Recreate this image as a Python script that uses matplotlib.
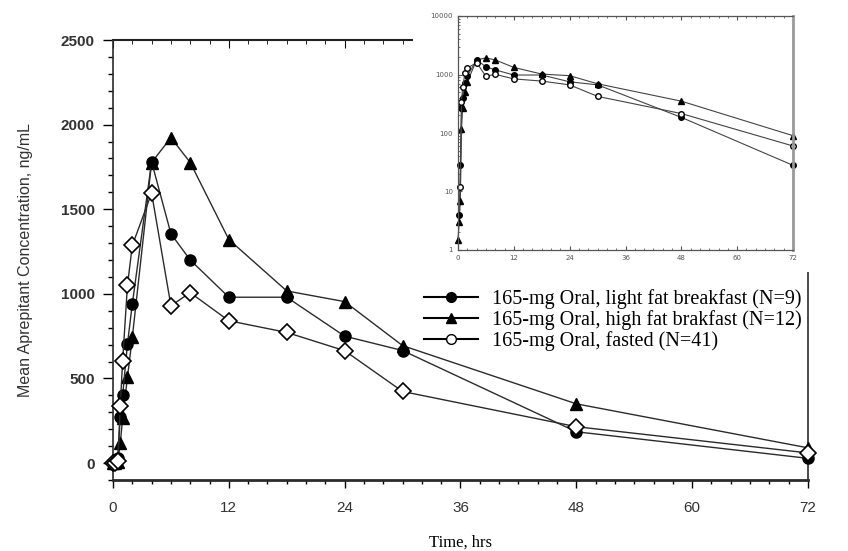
import matplotlib
matplotlib.use("Agg")
import matplotlib.pyplot as plt
from matplotlib.lines import Line2D
from matplotlib.patches import Rectangle
from matplotlib.ticker import MultipleLocator, LogLocator, NullFormatter

# sampling times (hrs) and mean concentrations (ng/mL)
time = [0, 0.25, 0.5, 0.75, 1, 1.5, 2, 4, 6, 8, 12, 18, 24, 30, 48, 72]
light_fat = [0, 4, 28, 270, 400, 705, 940, 1780, 1355, 1200, 980, 980, 750, 665, 185, 28]
high_fat = [1.5, 3, 7, 116, 265, 508, 743, 1776, 1923, 1776, 1321, 1017, 954, 694, 350, 90]
fasted = [0, 0, 12, 335, 606, 1052, 1286, 1595, 930, 1007, 841, 772, 664, 423, 215, 60]

labels = ["165-mg Oral, light fat breakfast (N=9)",
          "165-mg Oral, high fat brakfast (N=12)",
          "165-mg Oral, fasted (N=41)"]
x_ticks = [0, 12, 24, 36, 48, 60, 72]
y_ticks = [0, 500, 1000, 1500, 2000, 2500]

line_col = "#2b2b2b"
sans = ["Liberation Sans", "DejaVu Sans"]
serif = ["Liberation Serif", "DejaVu Serif"]

fig = plt.figure(figsize=(8.48, 5.51), dpi=100)
ax = fig.add_axes([113 / 848, 71 / 551, 695 / 848, 440 / 551])

ax.plot(time, high_fat, color=line_col, lw=1, marker="^", ms=8,
        mfc="black", mec="black", zorder=3, clip_on=False)
ax.plot(time, light_fat, color=line_col, lw=1, marker="o", ms=8,
        mfc="black", mec="black", zorder=3, clip_on=False)
ax.plot(time, fasted, color=line_col, lw=1, marker="D", ms=8,
        mfc="white", mec="black", mew=1.2, zorder=4, clip_on=False)

ax.set_xlim(0, 72)
ax.set_ylim(-100, 2500)
ax.set_xticks(x_ticks)
ax.set_yticks(y_ticks)
ax.xaxis.set_minor_locator(MultipleLocator(2))
ax.yaxis.set_minor_locator(MultipleLocator(100))
ax.tick_params(axis="x", which="major", direction="out", length=6, width=1,
               labelsize=11, pad=9)
ax.tick_params(axis="x", which="minor", direction="out", length=3, width=1)
ax.tick_params(axis="y", which="major", direction="out", length=7, width=1,
               labelsize=11, pad=6)
ax.tick_params(axis="y", which="minor", direction="out", length=3.5, width=1)
for lab in ax.get_xticklabels():
    lab.set_family(sans)
    lab.set_color("#333333")
for lab in ax.get_yticklabels():
    lab.set_family(sans)
    lab.set_color("#333333")
    lab.set_fontweight("bold")

top = ax.secondary_xaxis("top")
top.set_xticks(x_ticks)
top.xaxis.set_minor_locator(MultipleLocator(2))
top.tick_params(which="major", direction="in", length=6, labeltop=False)
top.tick_params(which="minor", direction="in", length=3)
top.spines["top"].set_linewidth(1.5)

for s in ax.spines.values():
    s.set_color(line_col)
    s.set_linewidth(1.2)
ax.spines["bottom"].set_linewidth(2)

ax.set_xlabel("Time, hrs", family=serif, fontsize=12, labelpad=14)
ax.set_ylabel("Mean Aprepitant Concentration, ng/mL", family=sans,
              fontsize=11.5, color="#333333", labelpad=20)

# legend
handles = [
    Line2D([], [], color="black", lw=1.5, marker="o", ms=7, mfc="black"),
    Line2D([], [], color="black", lw=1.5, marker="^", ms=7, mfc="black"),
    Line2D([], [], color="black", lw=1.5, marker="o", ms=7, mfc="white"),
]
fig.legend(handles, labels, loc="upper left", bbox_to_anchor=(424 / 848, 1 - 289 / 551),
           frameon=False, prop={"family": serif, "size": 14.5}, handlelength=2.7,
           handletextpad=0.7, labelspacing=0.05, borderaxespad=0, borderpad=0)

# white backing for the inset
fig.add_artist(Rectangle((413 / 848, 1 - 272 / 551), 1, 1, transform=fig.transFigure,
                         facecolor="white", edgecolor="none", zorder=1.5))

ins = fig.add_axes([458 / 848, 1 - 250 / 551, 335 / 848, 234 / 551], zorder=2)
ins.set_yscale("log", nonpositive="mask")
ins.plot(time, high_fat, color="#444444", lw=0.8, marker="^", ms=4, mfc="black", mec="black", clip_on=False)
ins.plot(time, light_fat, color="#444444", lw=0.8, marker="o", ms=4, mfc="black", mec="black", clip_on=False)
ins.plot(time, fasted, color="#444444", lw=0.8, marker="o", ms=4, mfc="white", mec="black", clip_on=False)
ins.set_xlim(0, 72)
ins.set_ylim(1, 10000)
ins.set_xticks(x_ticks)
ins.xaxis.set_minor_locator(MultipleLocator(2))
ins.yaxis.set_major_locator(LogLocator(base=10))
ins.yaxis.set_minor_locator(LogLocator(base=10, subs=range(2, 10)))
ins.yaxis.set_minor_formatter(NullFormatter())
ins.yaxis.set_major_formatter(matplotlib.ticker.FuncFormatter(lambda v, p: "%d" % v))
ins.tick_params(which="both", direction="in", labelsize=5, colors="#555555",
                top=True, right=False)
ins.tick_params(which="major", length=3)
ins.tick_params(which="minor", length=1.5)
for s in ins.spines.values():
    s.set_color("#555555")
    s.set_linewidth(0.9)
ins.spines["right"].set_color("#999999")
ins.spines["right"].set_linewidth(2)

fig.savefig("out.png", dpi=100)
